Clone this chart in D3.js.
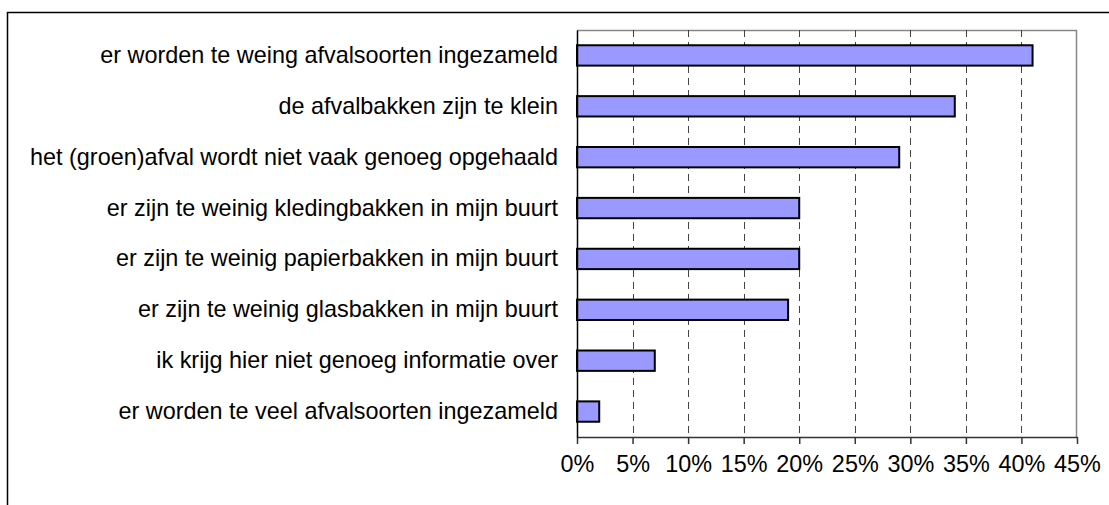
<!DOCTYPE html>
<html>
<head>
<meta charset="utf-8">
<script src="https://cdn.jsdelivr.net/npm/d3@7"></script>
<style>
html, body { margin: 0; padding: 0; background: #fff; }
svg { display: block; font-family: "Liberation Sans", Arial, sans-serif; }
</style>
</head>
<body>
<svg id="chart" width="1109" height="505"></svg>
<script>
const categories = [
  "er worden te weing afvalsoorten ingezameld",
  "de afvalbakken zijn te klein",
  "het (groen)afval wordt niet vaak genoeg opgehaald",
  "er zijn te weinig kledingbakken in mijn buurt",
  "er zijn te weinig papierbakken in mijn buurt",
  "er zijn te weinig glasbakken in mijn buurt",
  "ik krijg hier niet genoeg informatie over",
  "er worden te veel afvalsoorten ingezameld"
];
const values = [0.41, 0.34, 0.29, 0.20, 0.20, 0.19, 0.07, 0.02];
const tickValues = [0, 0.05, 0.10, 0.15, 0.20, 0.25, 0.30, 0.35, 0.40, 0.45];

const svg = d3.select("#chart");
const plot = { left: 577, right: 1077, top: 30, bottom: 437 };

// outer frame
svg.append("path")
  .attr("d", "M7.5,520 V12.5 H1120")
  .attr("fill", "none").attr("stroke", "#000").attr("stroke-width", 1.5);

const x = d3.scaleLinear().domain([0, 0.45]).range([plot.left, plot.right]);
const y = d3.scaleBand().domain(categories).range([plot.top, plot.bottom]).paddingInner(0.6).paddingOuter(0.3);

// plot border (top and right, gray)
svg.append("path")
  .attr("d", `M${plot.left},${plot.top + 0.5} H${plot.right - 0.5} V${plot.bottom}`)
  .attr("fill", "none").attr("stroke", "#888").attr("stroke-width", 1.5);

// gridlines
svg.append("g").selectAll("line")
  .data(tickValues.filter(d => d > 0 && d < 0.45))
  .join("line")
  .attr("x1", d => Math.round(x(d)) + 0.5).attr("x2", d => Math.round(x(d)) + 0.5)
  .attr("y1", plot.top).attr("y2", plot.bottom)
  .attr("stroke", "#444").attr("stroke-width", 1)
  .attr("stroke-dasharray", "7,5");

// bars
svg.append("g").selectAll("rect")
  .data(values)
  .join("rect")
  .attr("x", plot.left)
  .attr("y", (d, i) => y(categories[i]))
  .attr("width", d => x(d) - plot.left)
  .attr("height", y.bandwidth())
  .attr("fill", "#9999FF")
  .attr("stroke", "#000")
  .attr("stroke-width", 2);

// x axis
const xAxis = d3.axisBottom(x)
  .tickValues(tickValues)
  .tickFormat(d3.format(".0%"))
  .tickSize(7)
  .tickSizeOuter(0)
  .tickPadding(11);
const gx = svg.append("g").attr("transform", `translate(0,${plot.bottom})`).call(xAxis);
gx.select(".domain").attr("stroke", "#333").attr("stroke-width", 1.5);
gx.selectAll(".tick line").attr("stroke", "#333").attr("stroke-width", 1.5);
gx.selectAll("text").attr("font-size", 23.4).attr("fill", "#000")
  .attr("font-family", "'Liberation Sans', Arial, sans-serif");

// y axis
const yAxis = d3.axisLeft(y).tickSize(0).tickPadding(19);
const gy = svg.append("g").attr("transform", `translate(${plot.left},0)`).call(yAxis);
gy.select(".domain").attr("stroke", "#000").attr("stroke-width", 1.5);
gy.selectAll("text").attr("font-size", 23.4).attr("fill", "#000")
  .attr("font-family", "'Liberation Sans', Arial, sans-serif");
</script>
</body>
</html>
